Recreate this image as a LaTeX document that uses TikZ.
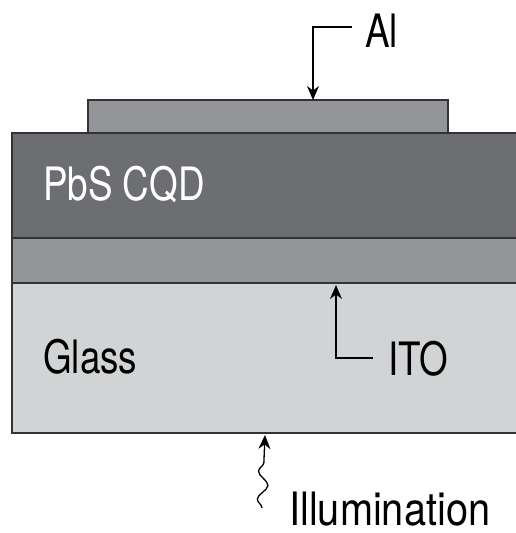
\documentclass[tikz,border=0pt]{standalone}
\usepackage{fontspec}
\setmainfont{TeX Gyre Heros}[FakeStretch=0.8]
\usetikzlibrary{arrows.meta,decorations.pathmorphing}
\definecolor{glassgray}{HTML}{D1D3D4}
\definecolor{itogray}{HTML}{939598}
\definecolor{pbsgray}{HTML}{6D6E71}
\definecolor{edgegray}{HTML}{333333}
\tikzset{
  layer/.style={draw=edgegray,line width=1.8pt},
  lbl/.style={anchor=base west,inner sep=0pt,font=\fontsize{46}{50}\selectfont},
  pointer/.style={line width=1.3pt,-{Stealth[length=14pt,width=12pt]}},
}
\begin{document}
\begin{tikzpicture}[x=1pt,y=-1pt]
\useasboundingbox (0,0) rectangle (515,533);
% device stack: glass, ITO, PbS CQD film, Al contact
\fill[glassgray] (12,283) rectangle (520,433);
\fill[itogray] (12,238) rectangle (520,283);
\fill[pbsgray] (12,133) rectangle (520,238);
\fill[itogray] (88,100) rectangle (448,133);
\draw[layer] (520,433) -- (12,433) -- (12,133) -- (520,133);
\draw[layer] (12,238) -- (520,238);
\draw[layer] (12,283) -- (520,283);
\draw[layer] (88,133) -- (88,100) -- (448,100) -- (448,133);
% anchor points on the layers
\coordinate (altop) at (313,100);
\coordinate (itotop) at (336,285);
\coordinate (glassbot) at (265,435);
% labels
\node[lbl,text=white] (pbs) at (43,200) {PbS CQD};
\node[lbl] (glass) at (43,373) {Glass};
\node[lbl] (al) at (365,47) {Al};
\node[lbl] (ito) at (388,375) {ITO};
\node[lbl,xscale=1.08] (ill) at (289,525) {Illumination};
% pointers
\coordinate (alelbow) at (313,27);
\draw[pointer] (352,27) -- (alelbow) -- (altop);
\coordinate (itoelbow) at (336,358);
\draw[pointer] (373,358) -- (itoelbow) -- (itotop);
\coordinate (illstart) at (262,508);
\draw[pointer,decorate,decoration={snake,amplitude=5pt,segment length=28pt,post length=16pt}] (illstart) -- (glassbot);
\end{tikzpicture}
\end{document}
